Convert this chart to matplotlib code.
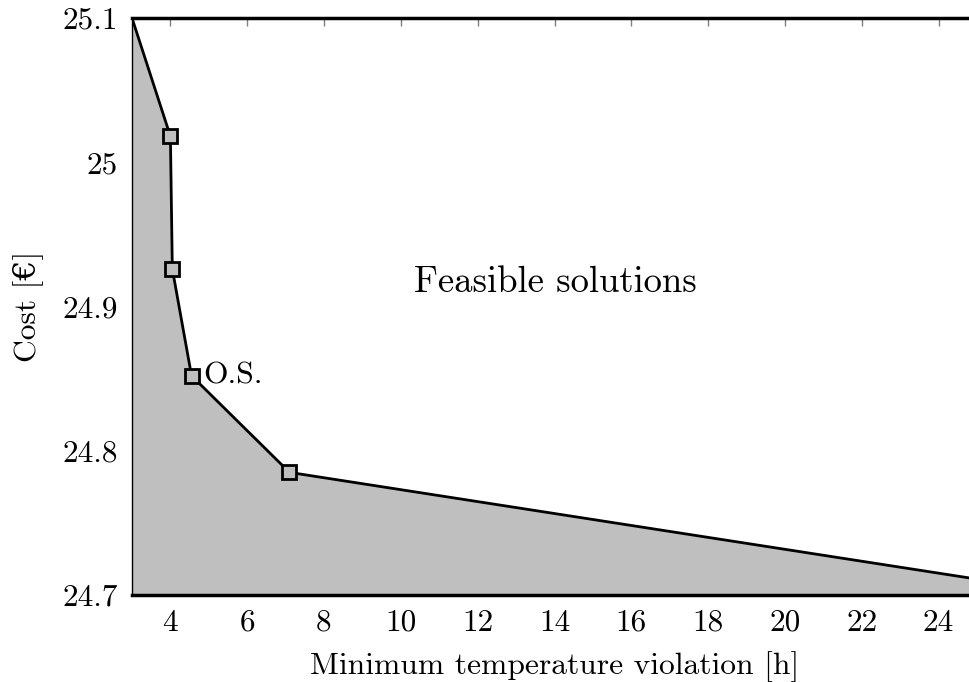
import matplotlib
matplotlib.use("Agg")
import matplotlib.pyplot as plt

# Data
x_vals = [3.0, 4.0, 4.05, 4.55, 7.1, 25.0]
y_vals = [25.1, 25.018, 24.926, 24.852, 24.785, 24.711]
marker_idx = [1, 2, 3, 4]
x_ticks = [4, 6, 8, 10, 12, 14, 16, 18, 20, 22, 24]
y_ticks = [24.7, 24.8, 24.9, 25.0, 25.1]
y_tick_labels = ["24.7", "24.8", "24.9", "25", "25.1"]
x_label = "Minimum temperature violation [h]"
y_label = "Cost [€]"
region_text = "Feasible solutions"
os_text = "O.S."

plt.rcParams['font.family'] = ['cmr10', 'DejaVu Serif']
plt.rcParams['mathtext.fontset'] = 'cm'

W, H = 969, 682
fig = plt.figure(figsize=(W / 100, H / 100), dpi=100)
left, right, top, bottom = 132, 977, 18, 595
ax = fig.add_axes([left / W, 1 - bottom / H, (right - left) / W, (bottom - top) / H])
ax.set_axisbelow(True)

ax.fill_between(x_vals, y_vals, 24.7, color='#bfbfbf', lw=0, zorder=1)
ax.plot(x_vals, y_vals, color='black', lw=2, zorder=3, solid_joinstyle='miter')
mx = [x_vals[i] for i in marker_idx]
my = [y_vals[i] for i in marker_idx]
ax.plot(mx, my, ls='none', marker='s', ms=10, mfc='#bfbfbf', mec='black', mew=2, zorder=4)

ax.set_xlim(3, 25)
ax.set_ylim(24.7, 25.1)
ax.set_xticks(x_ticks)
ax.set_xticklabels([str(t) for t in x_ticks])
ax.set_yticks(y_ticks)
ax.set_yticklabels(y_tick_labels)
ax.tick_params(direction='in', top=True, right=True, length=6, width=1,
               color='#808080', labelsize=22.5, pad=10)

ax.spines['right'].set_visible(False)
ax.spines['left'].set_linewidth(1.0)
ax.spines['top'].set_linewidth(2.5)
ax.spines['bottom'].set_linewidth(2.5)
for s in ax.spines.values():
    s.set_zorder(5)

ax.set_xlabel(x_label, fontsize=22.7, labelpad=10)
ax.set_ylabel(y_label, fontsize=22.7, labelpad=14)

ax.text(14.03, 24.917, region_text, fontsize=26.4, ha='center', va='center')
ax.text(4.85, 24.852, os_text, fontsize=22.8, ha='left', va='center')

fig.savefig("out.png", dpi=100)
